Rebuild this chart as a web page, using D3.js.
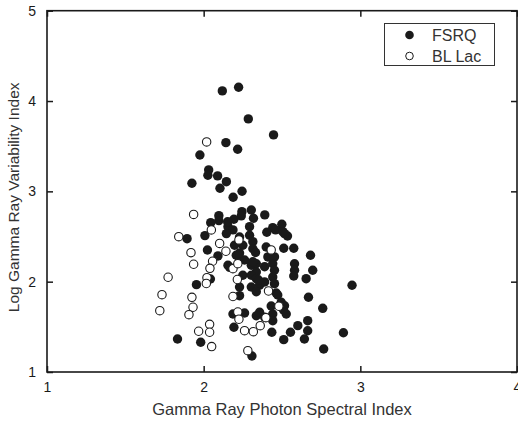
<!DOCTYPE html>
<html><head><meta charset="utf-8">
<script src="https://cdn.jsdelivr.net/npm/d3@7/dist/d3.min.js"></script>
<style>body{margin:0;background:#fff;} svg{display:block;font-family:Arial,"Liberation Sans",sans-serif;}</style>
</head><body>
<svg id="c" width="518" height="425"></svg>
<script>
// FSRQ: [spectral index, log variability index]
const fsrqX = [1.833,1.981,1.925,1.976,2.032,2.027,2.089,2.145,2.104,2.245,2.188,2.119,2.223,2.285,2.446,2.142,2.217,2.097,2.097,2.244,2.304,2.318,2.390,2.240,2.193,2.045,2.155,2.187,2.293,2.441,2.499,2.535,2.403,2.459,2.008,1.894,2.024,2.091,2.145,2.229,2.293,2.314,2.516,2.197,2.250,2.314,2.331,2.399,2.511,2.575,2.682,2.208,2.229,2.155,2.304,2.336,2.336,2.410,2.452,2.441,2.452,2.441,2.580,2.580,2.575,2.696,2.654,1.954,2.043,2.166,2.250,2.304,2.336,2.357,2.389,2.452,2.229,2.304,2.229,2.336,2.463,2.495,2.516,2.527,2.669,2.760,2.947,2.187,2.261,2.336,2.357,2.389,2.441,2.441,2.431,2.193,2.435,2.511,2.554,2.601,2.664,2.664,2.643,2.766,2.892,2.308,2.505,2.389,2.314,2.350,2.473,2.510,2.261,2.153,2.229];
const fsrqY = [1.365,1.329,3.090,3.403,3.237,3.178,3.171,3.107,3.034,3.001,2.935,4.112,4.153,3.802,3.625,3.539,3.466,2.731,2.676,2.775,2.794,2.702,2.739,2.728,2.691,2.653,2.609,2.573,2.609,2.598,2.636,2.506,2.547,2.573,2.510,2.476,2.351,2.285,2.532,2.495,2.514,2.443,2.532,2.403,2.403,2.365,2.323,2.384,2.370,2.370,2.292,2.292,2.262,2.182,2.182,2.199,2.107,2.274,2.274,2.199,2.126,2.052,2.199,2.126,2.063,2.126,2.033,1.967,2.030,2.159,2.071,2.071,2.033,1.960,1.997,1.978,1.941,1.941,1.845,1.889,1.875,1.772,1.734,1.642,1.827,1.705,1.960,1.642,1.653,1.623,1.661,1.606,1.642,1.568,1.731,1.495,1.440,1.358,1.440,1.513,1.568,1.457,1.365,1.255,1.435,1.177,2.554,2.166,2.221,2.019,1.853,1.687,2.240,2.664,2.318];
// BL Lac
const bllacX = [2.019,1.936,2.049,1.841,2.102,2.142,2.225,1.919,1.936,2.057,2.040,1.773,2.021,2.017,1.734,1.925,1.720,1.932,1.906,1.968,2.038,2.038,2.051,2.282,2.187,2.215,2.187,2.218,2.218,2.225,2.261,2.317,2.361,2.397,2.480,2.414,2.431];
const bllacY = [3.547,2.744,2.573,2.498,2.423,2.337,2.462,2.321,2.193,2.226,2.148,2.049,2.044,1.980,1.856,1.827,1.679,1.717,1.635,1.451,1.528,1.440,1.282,1.236,1.836,2.024,2.144,2.199,1.664,1.584,1.457,1.446,1.513,1.601,1.728,1.897,2.351];
const xTicks = [1,2,3,4];
const yTicks = [1,2,3,4,5];
const seriesNames = ["FSRQ","BL Lac"];
const xTitle = "Gamma Ray Photon Spectral Index";
const yTitle = "Log Gamma Ray Variability Index";

const svg = d3.select("#c");
const L=47, R=517, T=10.7, B=372;
const x = d3.scaleLinear().domain([1,4]).range([L,R]);
const y = d3.scaleLinear().domain([1,5]).range([B,T]);
const ink = "#1a1a1a";

// frame
svg.append("rect").attr("x",L).attr("y",T).attr("width",R-L).attr("height",B-T)
  .attr("fill","none").attr("stroke",ink).attr("stroke-width",1.6);

const tl = 6;
const gx = svg.append("g").attr("transform",`translate(0,${B})`)
  .call(d3.axisBottom(x).tickValues(xTicks).tickFormat(d3.format("d")).tickSizeInner(-tl).tickSizeOuter(0).tickPadding(10));
const gxt = svg.append("g").attr("transform",`translate(0,${T})`)
  .call(d3.axisTop(x).tickValues(xTicks).tickFormat("").tickSizeInner(-tl).tickSizeOuter(0));
const gy = svg.append("g").attr("transform",`translate(${L},0)`)
  .call(d3.axisLeft(y).tickValues(yTicks).tickFormat(d3.format("d")).tickSizeInner(-tl).tickSizeOuter(0).tickPadding(11));
const gyr = svg.append("g").attr("transform",`translate(${R},0)`)
  .call(d3.axisRight(y).tickValues(yTicks).tickFormat("").tickSizeInner(-tl).tickSizeOuter(0));
[gx,gxt,gy,gyr].forEach(g=>{
  g.select(".domain").remove();
  g.selectAll(".tick line").attr("stroke",ink).attr("stroke-width",1.5);
  g.selectAll(".tick text").attr("fill",ink).attr("font-size",14).attr("font-family","Arial, 'Liberation Sans', sans-serif");
});

// points
const r = 4.7;
const fsrq = fsrqX.map((v,i)=>({x:v,y:fsrqY[i]}));
const bll = bllacX.map((v,i)=>({x:v,y:bllacY[i]}));
svg.append("g").selectAll("circle").data(fsrq).join("circle")
  .attr("cx",d=>x(d.x)).attr("cy",d=>y(d.y)).attr("r",r).attr("fill",ink);
svg.append("g").selectAll("circle").data(bll).join("circle")
  .attr("cx",d=>x(d.x)).attr("cy",d=>y(d.y)).attr("r",r-0.5).attr("fill","#fff").attr("stroke",ink).attr("stroke-width",1.1);

// titles
svg.append("text").attr("x",282).attr("y",415).attr("text-anchor","middle")
  .attr("font-size",16.5).attr("fill","#333").text(xTitle);
svg.append("text").attr("transform",`translate(19,${(T+B)/2+6}) rotate(-90)`).attr("text-anchor","middle")
  .attr("font-size",15.5).attr("fill","#333").text(yTitle);

// legend
const lg = svg.append("g");
lg.append("rect").attr("x",384.5).attr("y",23.5).attr("width",110).attr("height",42)
  .attr("fill","#fff").attr("stroke","#333").attr("stroke-width",1);
lg.append("circle").attr("cx",409.5).attr("cy",35).attr("r",4.3).attr("fill",ink);
lg.append("circle").attr("cx",409.5).attr("cy",56).attr("r",3.8).attr("fill","#fff").attr("stroke",ink).attr("stroke-width",1);
lg.selectAll("text").data(seriesNames).join("text")
  .attr("x",432).attr("y",(d,i)=>40.5+i*21).attr("font-size",16).attr("fill","#333").text(d=>d);
</script>
</body></html>
